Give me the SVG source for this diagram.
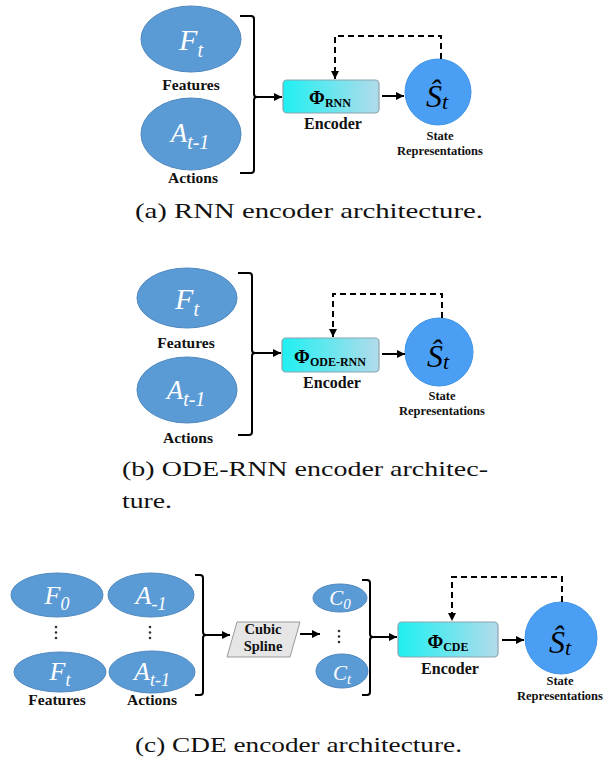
<svg xmlns="http://www.w3.org/2000/svg" width="604" height="763" viewBox="0 0 604 763">
<defs>
<linearGradient id="encGrad" x1="0" y1="0" x2="1" y2="0">
<stop offset="0" stop-color="#1ff0f2"/>
<stop offset="1" stop-color="#b2dbea"/>
</linearGradient>
<marker id="arr" viewBox="0 0 10 10" refX="10" refY="5" markerWidth="9" markerHeight="8" markerUnits="userSpaceOnUse" orient="auto">
<path d="M0,0 L10,5 L0,10 z" fill="#000"/>
</marker>
</defs>
<style>
.ell{fill:#5b9bd5;stroke:#4f88bf;stroke-width:1}
.st{fill:#4a9ff5;stroke:#3f93e6;stroke-width:1}
.enc{fill:url(#encGrad);stroke:#8aa4ae;stroke-width:1.2}
.spl{fill:#e6e6e6;stroke:#999;stroke-width:1}
.math{font-family:'Liberation Serif','Times New Roman','DejaVu Serif',serif;font-style:italic;fill:#fff}
.hat{font-family:'Liberation Serif','Times New Roman','DejaVu Serif',serif;font-style:italic;fill:#000}
.lbl{font-family:'Liberation Serif','Times New Roman','DejaVu Serif',serif;font-weight:bold;fill:#111;text-anchor:middle}
.phi{font-family:'Liberation Serif','Times New Roman','DejaVu Serif',serif;font-weight:bold;fill:#000;text-anchor:middle}
.cap{font-family:'Liberation Serif','Times New Roman','DejaVu Serif',serif;fill:#111}
.br{fill:none;stroke:#000;stroke-width:2}
.ar{fill:none;stroke:#000;stroke-width:2;marker-end:url(#arr)}
.dash{fill:none;stroke:#000;stroke-width:2;stroke-dasharray:6,4;marker-end:url(#arr)}
.dot{fill:#333}
</style>

<!-- Panel (a) -->
<g id="a_features">
<ellipse class="ell" cx="191" cy="39" rx="50" ry="33"/>
<text class="math" x="191" y="50" font-size="30" text-anchor="middle">F<tspan font-size="20" dy="7">t</tspan></text>
<text class="lbl" x="191" y="90" font-size="15.5">Features</text>
</g>
<g id="a_actions">
<ellipse class="ell" cx="191" cy="134" rx="50" ry="36"/>
<text class="math" x="190" y="142" font-size="27" text-anchor="middle">A<tspan font-size="20" dy="7">t-1</tspan></text>
<text class="lbl" x="193" y="183" font-size="15.5">Actions</text>
</g>
<g id="a_encoder">
<rect class="enc" x="283" y="80" width="96" height="33" rx="4"/>
<text class="phi" x="330" y="104" font-size="19">Φ<tspan font-size="12" dy="3">RNN</tspan></text>
<text class="lbl" x="333" y="129" font-size="16">Encoder</text>
</g>
<g id="a_state">
<circle class="st" cx="438" cy="92" r="33"/>
<text class="hat" x="437" y="107" font-size="32" text-anchor="middle">Ŝ<tspan font-size="22" dy="2">t</tspan></text>
<text class="lbl" x="440" y="140" font-size="12.5">State</text>
<text class="lbl" x="440" y="155" font-size="12.5">Representations</text>
</g>
<g id="a_connectors">
<path class="br" d="M240,16 H251 Q254,16 254,19 V94 Q254,97 257,97 Q254,97 254,100 V170 Q254,173 251,173 H240"/>
<line class="ar" x1="257" y1="97" x2="282" y2="97"/>
<line class="ar" x1="382" y1="96" x2="404" y2="96"/>
<path class="dash" d="M441,59 V36 H335 V79"/>
</g>
<text class="cap" x="135" y="218" font-size="22" textLength="348" lengthAdjust="spacingAndGlyphs">(a) RNN encoder architecture.</text>

<!-- Panel (b) -->
<g id="b_features">
<ellipse class="ell" cx="187" cy="298" rx="50" ry="30"/>
<text class="math" x="187" y="309" font-size="30" text-anchor="middle">F<tspan font-size="20" dy="7">t</tspan></text>
<text class="lbl" x="186" y="348" font-size="15.5">Features</text>
</g>
<g id="b_actions">
<ellipse class="ell" cx="187" cy="390" rx="50" ry="33"/>
<text class="math" x="186" y="399" font-size="27" text-anchor="middle">A<tspan font-size="20" dy="7">t-1</tspan></text>
<text class="lbl" x="188" y="443" font-size="15.5">Actions</text>
</g>
<g id="b_encoder">
<rect class="enc" x="282" y="338" width="97" height="34" rx="4"/>
<text class="phi" x="330" y="363" font-size="19">Φ<tspan font-size="12" dy="3">ODE-RNN</tspan></text>
<text class="lbl" x="332" y="388" font-size="16">Encoder</text>
</g>
<g id="b_state">
<circle class="st" cx="439" cy="352" r="34"/>
<text class="hat" x="438" y="367" font-size="32" text-anchor="middle">Ŝ<tspan font-size="22" dy="2">t</tspan></text>
<text class="lbl" x="442" y="400" font-size="12.5">State</text>
<text class="lbl" x="442" y="415" font-size="12.5">Representations</text>
</g>
<g id="b_connectors">
<path class="br" d="M238,273 H249 Q252,273 252,276 V350 Q252,353 255,353 Q252,353 252,356 V432 Q252,435 249,435 H238"/>
<line class="ar" x1="255" y1="353" x2="281" y2="353"/>
<line class="ar" x1="382" y1="354" x2="405" y2="354"/>
<path class="dash" d="M442,318 V294 H333 V337"/>
</g>
<text class="cap" x="122" y="476" font-size="22" textLength="366" lengthAdjust="spacingAndGlyphs">(b) ODE-RNN encoder architec-</text>
<text class="cap" x="122" y="508" font-size="22" textLength="50" lengthAdjust="spacingAndGlyphs">ture.</text>

<!-- Panel (c) -->
<g id="c_f0">
<ellipse class="ell" cx="57" cy="595" rx="46" ry="22"/>
<text class="math" x="57" y="604" font-size="26" text-anchor="middle">F<tspan font-size="18" dy="6">0</tspan></text>
</g>
<g id="c_a_1">
<ellipse class="ell" cx="151" cy="595" rx="43" ry="22"/>
<text class="math" x="151" y="604" font-size="26" text-anchor="middle">A<tspan font-size="18" dy="6">-1</tspan></text>
</g>
<g id="c_ft">
<ellipse class="ell" cx="60" cy="672" rx="46" ry="20"/>
<text class="math" x="60" y="680" font-size="26" text-anchor="middle">F<tspan font-size="18" dy="6">t</tspan></text>
<text class="lbl" x="57" y="705" font-size="15.5">Features</text>
</g>
<g id="c_at1">
<ellipse class="ell" cx="152" cy="672" rx="43" ry="21"/>
<text class="math" x="152" y="680" font-size="26" text-anchor="middle">A<tspan font-size="18" dy="6">t-1</tspan></text>
<text class="lbl" x="152" y="705" font-size="15.5">Actions</text>
</g>
<g id="c_dots_left">
<circle class="dot" cx="56" cy="627" r="1.3"/><circle class="dot" cx="56" cy="632.5" r="1.3"/><circle class="dot" cx="56" cy="638" r="1.3"/>
<circle class="dot" cx="150" cy="627" r="1.3"/><circle class="dot" cx="150" cy="632.5" r="1.3"/><circle class="dot" cx="150" cy="638" r="1.3"/>
</g>
<g id="c_spline">
<polygon class="spl" points="237,622 300,622 290,657 227,657"/>
<text class="lbl" x="263" y="634" font-size="14.5">Cubic</text>
<text class="lbl" x="263" y="651" font-size="14.5">Spline</text>
</g>
<g id="c_c0">
<ellipse class="ell" cx="340" cy="598" rx="27" ry="14"/>
<text class="math" x="340" y="605" font-size="21" text-anchor="middle">C<tspan font-size="15" dy="4">0</tspan></text>
</g>
<g id="c_dots_c">
<circle class="dot" cx="339" cy="631" r="1.3"/><circle class="dot" cx="339" cy="636.5" r="1.3"/><circle class="dot" cx="339" cy="642" r="1.3"/>
</g>
<g id="c_ct">
<ellipse class="ell" cx="342" cy="671" rx="26" ry="17"/>
<text class="math" x="342" y="680" font-size="21" text-anchor="middle">C<tspan font-size="15" dy="4">t</tspan></text>
</g>
<g id="c_encoder">
<rect class="enc" x="398" y="622" width="100" height="35" rx="4"/>
<text class="phi" x="448" y="648" font-size="19">Φ<tspan font-size="12" dy="3">CDE</tspan></text>
<text class="lbl" x="450" y="674" font-size="16">Encoder</text>
</g>
<g id="c_state">
<circle class="st" cx="561" cy="638" r="36"/>
<text class="hat" x="560" y="653" font-size="32" text-anchor="middle">Ŝ<tspan font-size="22" dy="2">t</tspan></text>
<text class="lbl" x="560" y="685" font-size="12.5">State</text>
<text class="lbl" x="560" y="700" font-size="12.5">Representations</text>
</g>
<g id="c_connectors">
<path class="br" d="M195,575 H200 Q203,575 203,578 V632 Q203,635 206,635 Q203,635 203,638 V692 Q203,695 200,695 H195"/>
<line class="ar" x1="206" y1="635" x2="230" y2="635"/>
<line class="ar" x1="300" y1="634" x2="320" y2="634"/>
<path class="br" d="M362,580 H367 Q370,580 370,583 V634 Q370,637 373,637 Q370,637 370,640 V692 Q370,695 367,695 H362"/>
<line class="ar" x1="373" y1="637" x2="397" y2="637"/>
<line class="ar" x1="502" y1="640" x2="524" y2="640"/>
<path class="dash" d="M562,602 V577 H452 V621"/>
</g>
<text class="cap" x="135" y="752" font-size="22" textLength="327" lengthAdjust="spacingAndGlyphs">(c) CDE encoder architecture.</text>
</svg>
